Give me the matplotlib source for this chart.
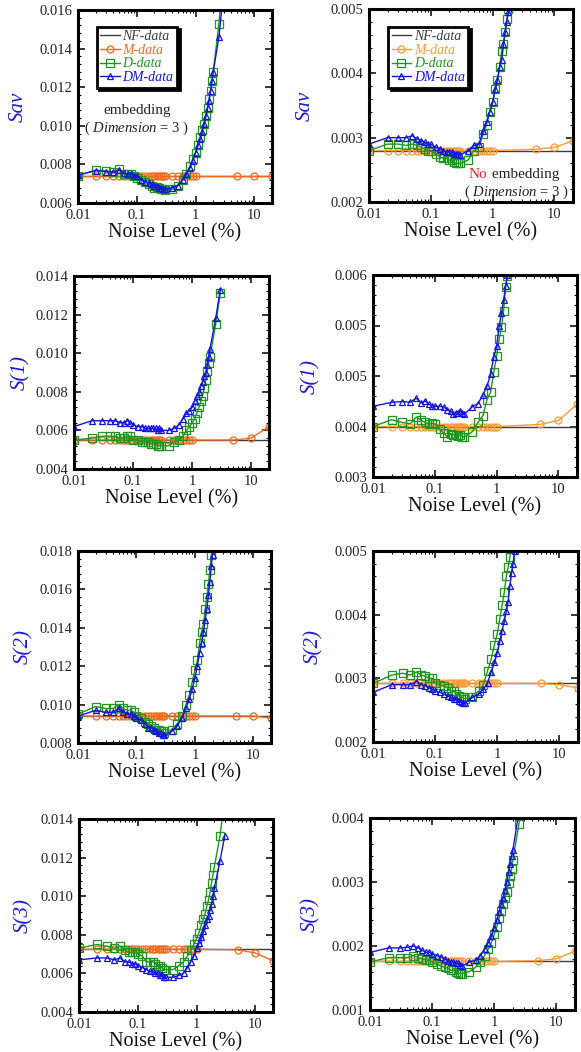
import matplotlib.pyplot as plt
from matplotlib.ticker import AutoMinorLocator, LogLocator, NullFormatter

plt.rcParams['font.family'] = ['Liberation Serif', 'DejaVu Serif']
plt.rcParams['mathtext.fontset'] = 'custom'
plt.rcParams['mathtext.rm'] = 'Liberation Serif'
plt.rcParams['mathtext.it'] = 'Liberation Serif:italic'

# noise levels (%) of the D / DM runs and of the M runs
x_d = [0.01, 0.02, 0.03, 0.04, 0.05, 0.06, 0.07, 0.08, 0.09,
       0.10, 0.12, 0.14, 0.16, 0.18, 0.20, 0.22, 0.24, 0.26, 0.28, 0.30,
       0.4, 0.5, 0.6, 0.7, 0.8, 0.9, 1.0,
       1.1, 1.2, 1.3, 1.4, 1.5, 1.6, 1.7, 1.8, 1.9, 2.0, 2.5, 3.0]
x_m = [0.01, 0.02, 0.03, 0.04, 0.05, 0.06, 0.07, 0.08, 0.09,
       0.10, 0.12, 0.14, 0.16, 0.18, 0.20, 0.22, 0.24, 0.26, 0.28, 0.30,
       0.4, 0.5, 0.6, 0.7, 0.8, 0.9, 1.0,
       5, 10, 20]
x_nf = [0.01, 20]
x_tick_labels = ['0.01', '0.1', '1', '10']

# ---- Sav, embedding ----
sav_e_nf = 0.0074
sav_e_m = [0.0074, 0.0074, 0.0074, 0.0074, 0.0074, 0.0074, 0.0074, 0.0074, 0.0074,
           0.0074, 0.0074, 0.0074, 0.0074, 0.0074, 0.0074, 0.0074, 0.0074, 0.0074, 0.0074, 0.0074,
           0.0074, 0.0074, 0.0074, 0.0074, 0.0074, 0.0074, 0.0074,
           0.0074, 0.0074, 0.0074]
sav_e_d = [0.00742, 0.00770, 0.00765, 0.00760, 0.00775, 0.00750, 0.00750, 0.00750, 0.00742,
           0.00730, 0.00720, 0.00710, 0.00700, 0.00690, 0.00680, 0.00685, 0.00680, 0.00670, 0.00670, 0.00665,
           0.00670, 0.00690, 0.00720, 0.00750, 0.00790, 0.00830, 0.00860,
           0.00900, 0.00940, 0.00980, 0.01010, 0.01050, 0.01090, 0.01140, 0.01180, 0.01230, 0.01280, 0.01530, 0.01800]
sav_e_dm = [0.00745, 0.00768, 0.00763, 0.00760, 0.00770, 0.00755, 0.00750, 0.00750, 0.00740,
            0.00740, 0.00720, 0.00710, 0.00705, 0.00700, 0.00690, 0.00690, 0.00680, 0.00680, 0.00675, 0.00670,
            0.00680, 0.00690, 0.00720, 0.00750, 0.00780, 0.00820, 0.00860,
            0.00900, 0.00930, 0.00970, 0.01010, 0.01050, 0.01090, 0.01130, 0.01180, 0.01230, 0.01280, 0.01460, 0.01700]

# ---- Sav, no embedding ----
sav_n_nf = 0.0028
sav_n_m = [0.0028, 0.0028, 0.0028, 0.0028, 0.0028, 0.0028, 0.0028, 0.0028, 0.0028,
           0.0028, 0.0028, 0.0028, 0.0028, 0.0028, 0.0028, 0.0028, 0.0028, 0.0028, 0.0028, 0.0028,
           0.0028, 0.0028, 0.0028, 0.0028, 0.0028, 0.0028, 0.0028,
           0.00282, 0.00285, 0.00295]
sav_n_d = [0.00280, 0.00290, 0.00290, 0.00288, 0.00290, 0.00288, 0.00285, 0.00283, 0.00280,
           0.00280, 0.00275, 0.00270, 0.00268, 0.00268, 0.00265, 0.00265, 0.00262, 0.00260, 0.00260, 0.00260,
           0.00265, 0.00280, 0.00285, 0.00305, 0.00320, 0.00340, 0.00355,
           0.00375, 0.00390, 0.00410, 0.00435, 0.00445, 0.00465, 0.00485, 0.00500, 0.00520, 0.00540, 0.00650, 0.00780]
sav_n_dm = [0.00290, 0.00300, 0.00300, 0.00300, 0.00303, 0.00298, 0.00295, 0.00293, 0.00290,
            0.00290, 0.00285, 0.00283, 0.00280, 0.00278, 0.00278, 0.00278, 0.00275, 0.00275, 0.00275, 0.00273,
            0.00280, 0.00288, 0.00290, 0.00310, 0.00325, 0.00340, 0.00355,
            0.00375, 0.00390, 0.00410, 0.00420, 0.00445, 0.00465, 0.00480, 0.00495, 0.00515, 0.00535, 0.00640, 0.00770]

# ---- S(1), embedding ----
s1_e_nf = 0.0055
s1_e_m = [0.0055, 0.0055, 0.0055, 0.0055, 0.0055, 0.0055, 0.0055, 0.0055, 0.0055,
          0.0055, 0.0055, 0.0055, 0.0055, 0.0055, 0.0055, 0.0055, 0.0055, 0.0055, 0.0055, 0.0055,
          0.0055, 0.0055, 0.0055, 0.0055, 0.0055, 0.0055, 0.0055,
          0.0055, 0.0056, 0.0062]
s1_e_d = [0.0055, 0.0056, 0.0057, 0.0057, 0.0057, 0.0056, 0.0056, 0.0057, 0.0057,
          0.0055, 0.0055, 0.0054, 0.0054, 0.0054, 0.0053, 0.0053, 0.0053, 0.0052, 0.0052, 0.0052,
          0.0052, 0.0054, 0.0055, 0.0057, 0.0060, 0.0062, 0.0064,
          0.0066, 0.0069, 0.0072, 0.0075, 0.0078, 0.0082, 0.0086, 0.0091, 0.0095, 0.0098, 0.0115, 0.0131]
s1_e_dm = [0.0062, 0.0065, 0.0065, 0.0065, 0.0065, 0.0064, 0.0064, 0.0065, 0.0064,
           0.0063, 0.0062, 0.0062, 0.0061, 0.0061, 0.0061, 0.0061, 0.0061, 0.0060, 0.0061, 0.0060,
           0.0060, 0.0061, 0.0063, 0.0066, 0.0069, 0.0070, 0.0072,
           0.0075, 0.0078, 0.0080, 0.0083, 0.0085, 0.0088, 0.0090, 0.0094, 0.0098, 0.0102, 0.0118, 0.0133]

# ---- S(1), no embedding ----
s1_n_nf = 0.00375
s1_n_m = [0.00375, 0.00375, 0.00375, 0.00375, 0.00375, 0.00375, 0.00375, 0.00375, 0.00375,
          0.00375, 0.00375, 0.00375, 0.00375, 0.00375, 0.00375, 0.00375, 0.00375, 0.00375, 0.00375, 0.00375,
          0.00375, 0.00375, 0.00375, 0.00375, 0.00375, 0.00375, 0.00375,
          0.00378, 0.00384, 0.00408]
s1_n_d = [0.00375, 0.00385, 0.00381, 0.00379, 0.00389, 0.00384, 0.00381, 0.00379, 0.00380,
          0.00379, 0.00371, 0.00365, 0.00359, 0.00364, 0.00363, 0.00363, 0.00361, 0.00363, 0.00360, 0.00359,
          0.00367, 0.00381, 0.00391, 0.00415, 0.00426, 0.00456, 0.00479,
          0.00505, 0.00523, 0.00547, 0.00582, 0.00598, 0.00620, 0.00640, 0.00660, 0.00680, 0.00700, 0.00800, 0.00900]
s1_n_dm = [0.00405, 0.00411, 0.00412, 0.00411, 0.00417, 0.00410, 0.00413, 0.00408, 0.00406,
           0.00405, 0.00405, 0.00404, 0.00400, 0.00398, 0.00394, 0.00395, 0.00395, 0.00398, 0.00395, 0.00393,
           0.00404, 0.00409, 0.00422, 0.00435, 0.00453, 0.00478, 0.00494,
           0.00524, 0.00543, 0.00563, 0.00584, 0.00600, 0.00620, 0.00640, 0.00660, 0.00680, 0.00700, 0.00800, 0.00900]
s1_n_ticks = [0.003, 0.00375, 0.0045, 0.00525, 0.006]
s1_n_labels = ['0.003', '0.004', '0.005', '0.005', '0.006']

# ---- S(2), embedding ----
s2_e_nf = 0.0094
s2_e_m = [0.0094, 0.0094, 0.0094, 0.0094, 0.0094, 0.0094, 0.0094, 0.0094, 0.0094,
          0.0094, 0.0094, 0.0094, 0.0094, 0.0094, 0.0094, 0.0094, 0.0094, 0.0094, 0.0094, 0.0094,
          0.0094, 0.0094, 0.0094, 0.0094, 0.0094, 0.0094, 0.0094,
          0.0094, 0.0094, 0.0093]
s2_e_d = [0.0095, 0.0099, 0.0098, 0.0098, 0.0100, 0.0098, 0.0097, 0.0097, 0.0096,
          0.0094, 0.0093, 0.0091, 0.0090, 0.0089, 0.0088, 0.0087, 0.0087, 0.0086, 0.0086, 0.0085,
          0.0087, 0.0090, 0.0094, 0.0100, 0.0105, 0.0112, 0.0118,
          0.0123, 0.0132, 0.0138, 0.0142, 0.0150, 0.0156, 0.0163, 0.0170, 0.0178, 0.0182, 0.0215, 0.0250]
s2_e_dm = [0.0094, 0.0097, 0.0096, 0.0096, 0.0098, 0.0096, 0.0095, 0.0095, 0.0094,
           0.0093, 0.0092, 0.0090, 0.0088, 0.0088, 0.0087, 0.0086, 0.0085, 0.0085, 0.0084, 0.0084,
           0.0086, 0.0089, 0.0093, 0.0098, 0.0103, 0.0108, 0.0114,
           0.0120, 0.0127, 0.0132, 0.0138, 0.0144, 0.0150, 0.0157, 0.0164, 0.0172, 0.0178, 0.0210, 0.0245]

# ---- S(2), no embedding ----
s2_n_nf = 0.00292
s2_n_m = [0.00292, 0.00292, 0.00292, 0.00292, 0.00292, 0.00292, 0.00292, 0.00292, 0.00292,
          0.00292, 0.00292, 0.00292, 0.00292, 0.00292, 0.00292, 0.00292, 0.00292, 0.00292, 0.00292, 0.00292,
          0.00292, 0.00292, 0.00292, 0.00292, 0.00292, 0.00292, 0.00292,
          0.00292, 0.00290, 0.00285]
s2_n_d = [0.00292, 0.00305, 0.00308, 0.00305, 0.00310, 0.00305, 0.00303, 0.00300, 0.00300,
          0.00293, 0.00290, 0.00288, 0.00285, 0.00280, 0.00280, 0.00275, 0.00273, 0.00270, 0.00270, 0.00268,
          0.00270, 0.00280, 0.00290, 0.00312, 0.00330, 0.00352, 0.00370,
          0.00393, 0.00415, 0.00435, 0.00460, 0.00475, 0.00490, 0.00510, 0.00530, 0.00550, 0.00570, 0.00680, 0.00800]
s2_n_dm = [0.00278, 0.00290, 0.00290, 0.00290, 0.00295, 0.00290, 0.00288, 0.00285, 0.00283,
           0.00280, 0.00278, 0.00275, 0.00272, 0.00270, 0.00267, 0.00267, 0.00265, 0.00263, 0.00262, 0.00262,
           0.00270, 0.00275, 0.00283, 0.00293, 0.00310, 0.00325, 0.00340,
           0.00358, 0.00375, 0.00390, 0.00405, 0.00420, 0.00445, 0.00465, 0.00480, 0.00500, 0.00520, 0.00620, 0.00740]

# ---- S(3), embedding ----
s3_e_nf = 0.00725
s3_e_m = [0.00725, 0.00725, 0.00725, 0.00725, 0.00725, 0.00725, 0.00725, 0.00725, 0.00725,
          0.00725, 0.00725, 0.00725, 0.00725, 0.00725, 0.00725, 0.00725, 0.00725, 0.00725, 0.00725, 0.00725,
          0.00725, 0.00725, 0.00725, 0.00725, 0.00725, 0.00725, 0.00725,
          0.00722, 0.00706, 0.00665]
s3_e_d = [0.0073, 0.0075, 0.0074, 0.0073, 0.0074, 0.0072, 0.0071, 0.0071, 0.0071,
          0.0070, 0.0069, 0.0066, 0.0066, 0.0066, 0.0065, 0.0064, 0.0064, 0.0063, 0.0062, 0.0062,
          0.0062, 0.0064, 0.0066, 0.0069, 0.0072, 0.0075, 0.0078,
          0.0081, 0.0085, 0.0088, 0.0091, 0.0095, 0.0098, 0.0102, 0.0107, 0.0111, 0.0115, 0.0131, 0.0150]
s3_e_dm = [0.0067, 0.0068, 0.0068, 0.0067, 0.0068, 0.0066, 0.0066, 0.0065, 0.0065,
           0.0064, 0.0063, 0.0062, 0.0061, 0.0061, 0.0060, 0.0060, 0.0059, 0.0059, 0.0058, 0.0058,
           0.0058, 0.0059, 0.0060, 0.0063, 0.0066, 0.0069, 0.0073,
           0.0076, 0.0079, 0.0082, 0.0085, 0.0088, 0.0090, 0.0093, 0.0096, 0.0100, 0.0104, 0.0118, 0.0131]

# ---- S(3), no embedding ----
s3_n_nf = 0.00176
s3_n_m = [0.00176, 0.00176, 0.00176, 0.00176, 0.00176, 0.00176, 0.00176, 0.00176, 0.00176,
          0.00176, 0.00176, 0.00176, 0.00176, 0.00176, 0.00176, 0.00176, 0.00176, 0.00176, 0.00176, 0.00176,
          0.00176, 0.00176, 0.00176, 0.00176, 0.00176, 0.00176, 0.00176,
          0.00177, 0.00180, 0.00192]
s3_n_d = [0.00175, 0.00182, 0.00182, 0.00182, 0.00185, 0.00182, 0.00180, 0.00178, 0.00178,
          0.00175, 0.00172, 0.00168, 0.00167, 0.00165, 0.00162, 0.00162, 0.00160, 0.00158, 0.00157, 0.00157,
          0.00160, 0.00167, 0.00175, 0.00185, 0.00195, 0.00205, 0.00218,
          0.00230, 0.00243, 0.00255, 0.00265, 0.00275, 0.00285, 0.00298, 0.00310, 0.00320, 0.00335, 0.00390, 0.00450]
s3_n_dm = [0.00190, 0.00197, 0.00197, 0.00198, 0.00200, 0.00197, 0.00193, 0.00190, 0.00190,
           0.00188, 0.00185, 0.00183, 0.00180, 0.00177, 0.00175, 0.00175, 0.00173, 0.00173, 0.00170, 0.00168,
           0.00175, 0.00178, 0.00185, 0.00195, 0.00205, 0.00215, 0.00228,
           0.00240, 0.00253, 0.00265, 0.00275, 0.00287, 0.00300, 0.00315, 0.00328, 0.00340, 0.00350, 0.00410, 0.00470]

NF_COLOR = '#3c3c3c'
M_LEFT = '#f26a1b'
M_RIGHT = '#ff9a33'
D_COLOR = '#1f961f'
DM_COLOR = '#1414e0'
LABEL_BLUE = '#1a1ad8'

W, H = 581, 1052
fig = plt.figure(figsize=(W / 100, H / 100), dpi=100)


def make_ax(left, top, right, bottom):
    # pixel box -> figure fraction
    return fig.add_axes([left / W, 1 - bottom / H, (right - left) / W, (bottom - top) / H])


def draw(ax, nf, m, d, dm, m_color):
    ax.plot(x_nf, [nf, nf], color=NF_COLOR, lw=1.0, label='NF-data')
    ax.plot(x_m, m, color=m_color, lw=1.0, marker='o', ms=5, mfc='none', mew=0.9, label='M-data')
    ax.plot(x_d, d, color=D_COLOR, lw=1.0, marker='s', ms=5.5, mfc='none', mew=0.9, label='D-data')
    ax.plot(x_d, dm, color=DM_COLOR, lw=1.0, marker='^', ms=5, mfc='none', mew=0.9, label='DM-data')


def style(ax, ylim, yticks, ylabels, ylabel, label_gap):
    ax.set_xscale('log')
    ax.set_xlim(0.01, 20)
    ax.set_ylim(*ylim)
    ax.set_xticks([0.01, 0.1, 1, 10])
    ax.set_xticklabels(x_tick_labels)
    ax.xaxis.set_minor_locator(LogLocator(base=10, subs=range(2, 10)))
    ax.xaxis.set_minor_formatter(NullFormatter())
    ax.set_yticks(yticks)
    ax.set_yticklabels(ylabels)
    ax.yaxis.set_minor_locator(AutoMinorLocator(5))
    ax.tick_params(which='both', direction='in', top=True, right=True,
                   labelsize=10.5, labelcolor='#222222', pad=4)
    ax.tick_params(which='major', length=5, width=1.1)
    ax.tick_params(which='minor', length=2.5, width=0.8)
    for sp in ax.spines.values():
        sp.set_linewidth(2.2)
    bb = ax.get_position()
    w_px, h_px = bb.width * W, bb.height * H
    ax.set_xlabel('Noise Level (%)', fontsize=14.5, color='#111111')
    ax.xaxis.set_label_coords(0.5, -20 / h_px)
    ax.set_ylabel(ylabel, fontsize=15, color=LABEL_BLUE, style='italic')
    ax.yaxis.set_label_coords(-label_gap / w_px, 0.5)


def add_legend(ax, x0, y0):
    leg = ax.legend(loc='upper left', bbox_to_anchor=(x0, y0),
                    prop={'style': 'italic', 'size': 10}, labelcolor='linecolor',
                    handlelength=1.4, handletextpad=0.2, labelspacing=0.05,
                    borderpad=0.25, numpoints=1, fancybox=False,
                    shadow={'color': 'black', 'alpha': 1.0})
    leg.get_frame().set_edgecolor('black')
    leg.get_frame().set_linewidth(2)


ticks_e1 = [0.006, 0.008, 0.010, 0.012, 0.014, 0.016]
labels_e1 = ['0.006', '0.008', '0.010', '0.012', '0.014', '0.016']
ticks_n1 = [0.002, 0.003, 0.004, 0.005]
labels_n1 = ['0.002', '0.003', '0.004', '0.005']
ticks_e2 = [0.004, 0.006, 0.008, 0.010, 0.012, 0.014]
labels_e2 = ['0.004', '0.006', '0.008', '0.010', '0.012', '0.014']
ticks_e3 = [0.008, 0.010, 0.012, 0.014, 0.016, 0.018]
labels_e3 = ['0.008', '0.010', '0.012', '0.014', '0.016', '0.018']
ticks_n4 = [0.001, 0.002, 0.003, 0.004]
labels_n4 = ['0.001', '0.002', '0.003', '0.004']

# row 1: Sav
ax1 = make_ax(78, 10, 272, 203)
draw(ax1, sav_e_nf, sav_e_m, sav_e_d, sav_e_dm, M_LEFT)
style(ax1, (0.006, 0.016), ticks_e1, labels_e1, 'Sav', 50)
add_legend(ax1, 0.06, 0.95)
ax1.text(0.305, 0.48, 'embedding', transform=ax1.transAxes, ha='center', va='center',
         fontsize=11, color='#222222')
ax1.text(0.30, 0.385, '( $\\mathit{Dimension}$ = 3 )', transform=ax1.transAxes,
         ha='center', va='center', fontsize=10.5, color='#222222')

ax2 = make_ax(369, 9, 573, 202)
draw(ax2, sav_n_nf, sav_n_m, sav_n_d, sav_n_dm, M_RIGHT)
style(ax2, (0.002, 0.005), ticks_n1, labels_n1, 'Sav', 54)
add_legend(ax2, 0.06, 0.945)
t_no = ax2.text(0.49, 0.145, 'No', transform=ax2.transAxes, ha='left', va='center',
                fontsize=11, color='#ee1c24')
ax2.annotate(' embedding', xy=(1, 0), xycoords=t_no, ha='left', va='bottom',
             fontsize=11, color='#222222')
ax2.text(0.72, 0.05, '( $\\mathit{Dimension}$ = 3 )', transform=ax2.transAxes,
         ha='center', va='center', fontsize=10.5, color='#222222')

# row 2: S(1)
ax3 = make_ax(74, 276, 269, 469)
draw(ax3, s1_e_nf, s1_e_m, s1_e_d, s1_e_dm, M_LEFT)
style(ax3, (0.004, 0.014), ticks_e2, labels_e2, 'S(1)', 44)

ax4 = make_ax(373, 275, 577, 477)
draw(ax4, s1_n_nf, s1_n_m, s1_n_d, s1_n_dm, M_RIGHT)
style(ax4, (0.003, 0.006), s1_n_ticks, s1_n_labels, 'S(1)', 53)

# row 3: S(2)
ax5 = make_ax(78, 551, 271, 743)
draw(ax5, s2_e_nf, s2_e_m, s2_e_d, s2_e_dm, M_LEFT)
style(ax5, (0.008, 0.018), ticks_e3, labels_e3, 'S(2)', 45)

ax6 = make_ax(373, 551, 578, 742)
draw(ax6, s2_n_nf, s2_n_m, s2_n_d, s2_n_dm, M_RIGHT)
style(ax6, (0.002, 0.005), ticks_n1, labels_n1, 'S(2)', 50)

# row 4: S(3)
ax7 = make_ax(79, 819, 273, 1012)
draw(ax7, s3_e_nf, s3_e_m, s3_e_d, s3_e_dm, M_LEFT)
style(ax7, (0.004, 0.014), ticks_e2, labels_e2, 'S(3)', 46)

ax8 = make_ax(370, 818, 575, 1010)
draw(ax8, s3_n_nf, s3_n_m, s3_n_d, s3_n_dm, M_RIGHT)
style(ax8, (0.001, 0.004), ticks_n4, labels_n4, 'S(3)', 50)

fig.savefig('out.png', dpi=100)
